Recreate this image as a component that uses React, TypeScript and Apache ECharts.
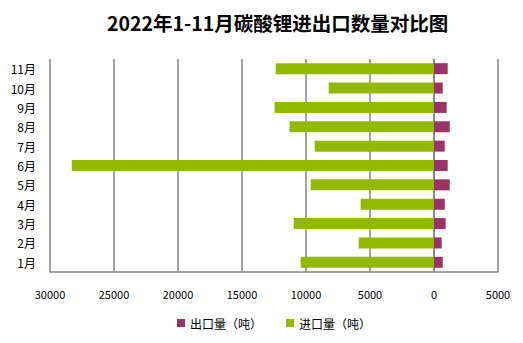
import React, { useEffect, useRef } from "react";
import * as echarts from "echarts";

const months = ["1月", "2月", "3月", "4月", "5月", "6月", "7月", "8月", "9月", "10月", "11月"];
const exportVals = [680, 600, 910, 840, 1230, 1070, 840, 1230, 990, 680, 1070];
const importVals = [10420, 5880, 10960, 5730, 9630, 28300, 9320, 11280, 12450, 8230, 12370];
const exportName = "出口量（吨）";
const importName = "进口量（吨）";
const titleText = "2022年1-11月碳酸锂进出口数量对比图";

const FONT = "'Noto Sans CJK SC', 'Noto Sans', sans-serif";

export default function App() {
  const ref = useRef<HTMLDivElement>(null);
  useEffect(() => {
    if (!ref.current) return;
    const chart = echarts.init(ref.current, undefined, { renderer: "svg" });
    chart.setOption({
      animation: false,
      backgroundColor: "#fff",
      title: {
        text: titleText,
        left: 102,
        top: 8,
        textStyle: { fontSize: 19.5, fontWeight: "bold", color: "#000", fontFamily: FONT },
      },
      legend: {
        bottom: 9,
        left: 172,
        itemWidth: 8,
        itemHeight: 8,
        itemGap: 24,
        icon: "rect",
        textStyle: { fontSize: 12, color: "#000", fontFamily: FONT },
        data: [exportName, importName],
      },
      grid: { left: 50, right: 25, top: 59, bottom: 71, containLabel: false },
      xAxis: {
        type: "value",
        min: -30000,
        max: 5000,
        interval: 5000,
        axisLine: { show: true, lineStyle: { color: "#868686", width: 1.5 } },
        axisTick: { show: false },
        splitLine: { show: true, lineStyle: { color: "#868686", width: 1.5 } },
        axisLabel: {
          formatter: (v: number) => String(Math.abs(v)),
          color: "#000",
          fontSize: 11,
          fontFamily: FONT,
          margin: 16,
        },
      },
      yAxis: {
        type: "category",
        data: months,
        axisLine: { show: true, lineStyle: { color: "#868686", width: 1.5 } },
        axisTick: { show: false },
        axisLabel: { color: "#000", fontSize: 12, fontFamily: FONT, margin: 14 },
      },
      series: [
        {
          name: exportName,
          type: "bar",
          data: exportVals,
          barWidth: 11,
          barGap: "-100%",
          itemStyle: { color: "#9B3366" },
        },
        {
          name: importName,
          type: "bar",
          data: importVals.map((v) => -v),
          barWidth: 11,
          barGap: "-100%",
          itemStyle: { color: "#93B800" },
        },
      ],
    });
    return () => chart.dispose();
  }, []);
  return <div ref={ref} style={{ width: 523, height: 343, position: "absolute", left: 0, top: 0 }} />;
}
